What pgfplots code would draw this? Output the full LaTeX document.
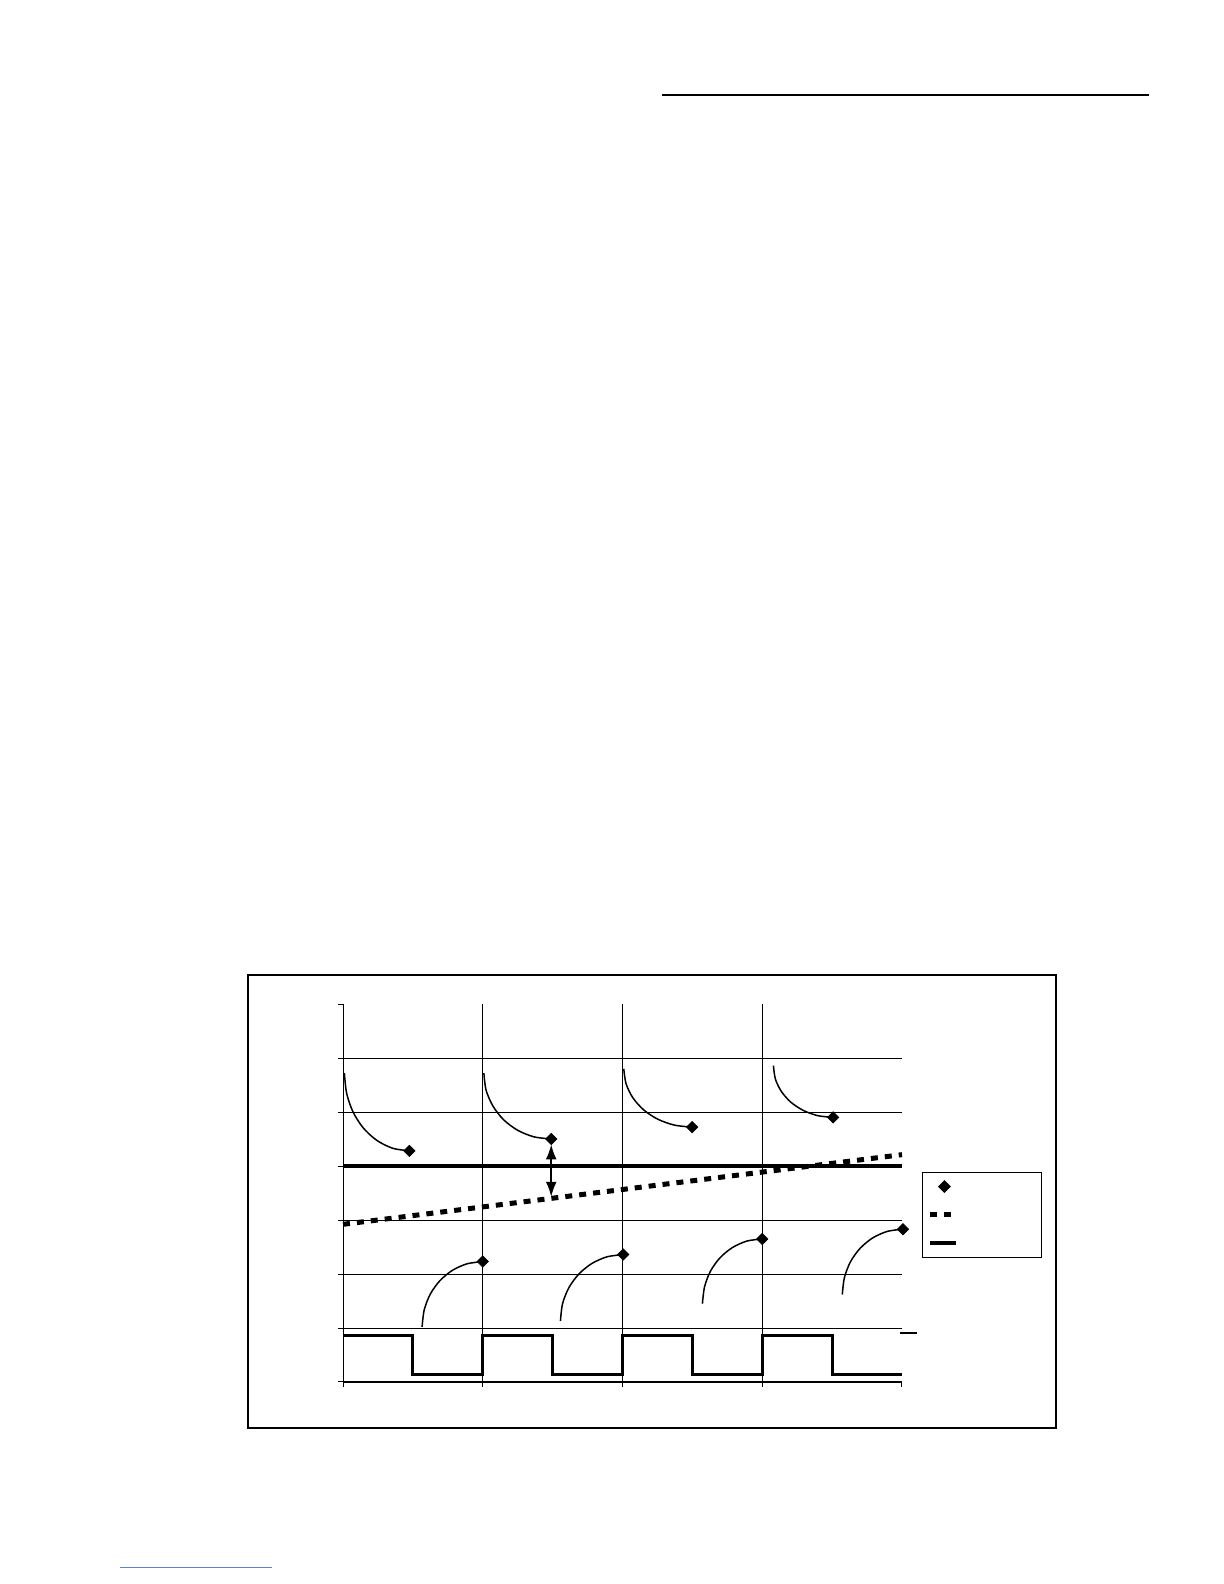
\documentclass[border=0pt]{standalone}
\usepackage{pgfplots}
\pgfplotsset{compat=1.18}
\usetikzlibrary{arrows.meta}
\definecolor{linkblue}{rgb}{0.40,0.50,0.85}
\pgfplotsset{
  dashlegend/.style={legend image code/.code={\draw[##1] (0pt,0pt) -- (12.6pt,0pt);}},
  linelegend/.style={legend image code/.code={\draw[##1] (0pt,0pt) -- (15.6pt,0pt);}},
}
% empty legend text, fixed size
\newcommand{\blank}{\rule[-11pt]{0pt}{22.5pt}\hspace*{43pt}}
\begin{document}
\begin{tikzpicture}
  % page (1224 x 1584 px, y up, 1 px = 0.6pt)
  \begin{scope}[x=0.6pt,y=0.6pt]
    \fill[white] (0,0) rectangle (1224,1584);
    \draw[line width=0.9pt] (662,1489) -- (1149,1489);
    \draw[linkblue, line width=0.6pt] (120,16) -- (272,16);
    % frame round the figure
    \draw[line width=0.8pt] (248,609) rectangle (1056,156);
    \draw[line width=0.8pt] (900,251) -- (917,251);
  \end{scope}

  \begin{axis}[
      at={(205.8pt,121.2pt)}, anchor=south west,
      scale only axis,
      width=335.4pt, height=226.8pt,
      xmin=0, xmax=4, ymin=0, ymax=7,
      axis x line*=bottom, axis y line*=left,
      x axis line style={line width=1.1pt},
      y axis line style={line width=0.6pt},
      xtick={0,...,4}, ytick={0,...,7},
      xticklabels={}, yticklabels={},
      tick align=outside, major tick length=3pt,
      tick style={black, line width=0.6pt},
      extra x ticks={1,2,3}, extra y ticks={1,...,6},
      extra x tick labels={}, extra y tick labels={},
      extra tick style={grid=major, major grid style={black, line width=0.6pt}},
      clip=false,
      legend style={at={(1.036,0.556)}, anchor=north west,
        draw=black, line width=0.7pt, inner xsep=3pt, inner ysep=0pt,
        row sep=0pt},
    ]
    % end points of the curves
    \addplot[only marks, mark=square*, mark options={rotate=45}, mark size=2.4pt, black]
      coordinates {(0.475,4.28) (1.49,4.50) (2.499,4.72) (3.507,4.90)
                   (1.0,2.23) (2.005,2.36) (3.0,2.65) (4.007,2.83)};
    \addlegendentry{\blank}
    % rising set point
    \addplot[black, line width=3pt, dash pattern=on 4.2pt off 4.2pt, dashlegend]
      coordinates {(0,2.92) (4,4.21)};
    \addlegendentry{\blank}
    % fixed level
    \addplot[black, line width=2.3pt, linelegend]
      coordinates {(0,4.0) (4,4.0)};
    \addlegendentry{\blank}

    % decaying curves
    \addplot[forget plot, black, line width=0.9pt, smooth] coordinates {
      (0.010,5.720) (0.026,5.347) (0.072,5.000) (0.146,4.702) (0.243,4.473) (0.355,4.329) (0.475,4.280)};
    \addplot[forget plot, black, line width=0.9pt, smooth] coordinates {
      (1.008,5.720) (1.024,5.404) (1.073,5.110) (1.149,4.857) (1.249,4.663) (1.365,4.541) (1.490,4.500)};
    \addplot[forget plot, black, line width=0.9pt, smooth] coordinates {
      (2.009,5.800) (2.026,5.520) (2.075,5.260) (2.153,5.036) (2.254,4.865) (2.372,4.757) (2.499,4.720)};
    \addplot[forget plot, black, line width=0.9pt, smooth] coordinates {
      (3.080,5.860) (3.094,5.611) (3.137,5.380) (3.205,5.181) (3.294,5.029) (3.396,4.933) (3.507,4.900)};
    % rising curves
    \addplot[forget plot, black, line width=0.9pt, smooth] coordinates {
      (0.566,1.020) (0.581,1.333) (0.624,1.625) (0.693,1.875) (0.783,2.068) (0.888,2.189) (1.000,2.230)};
    \addplot[forget plot, black, line width=0.9pt, smooth] coordinates {
      (1.556,1.130) (1.571,1.449) (1.616,1.745) (1.688,2.000) (1.781,2.195) (1.889,2.318) (2.005,2.360)};
    \addplot[forget plot, black, line width=0.9pt, smooth] coordinates {
      (2.572,1.450) (2.587,1.761) (2.629,2.050) (2.697,2.298) (2.786,2.489) (2.889,2.609) (3.000,2.650)};
    \addplot[forget plot, black, line width=0.9pt, smooth] coordinates {
      (3.573,1.620) (3.588,1.933) (3.631,2.225) (3.700,2.475) (3.790,2.668) (3.895,2.789) (4.007,2.830)};

    % square wave
    \addplot[forget plot, black, line width=1.8pt, line join=miter] coordinates {
      (0,0.86) (0.5,0.86) (0.5,0.14) (1,0.14) (1,0.86) (1.5,0.86) (1.5,0.14) (2,0.14)
      (2,0.86) (2.5,0.86) (2.5,0.14) (3,0.14) (3,0.86) (3.5,0.86) (3.5,0.14) (4,0.14)};

    % gap between curve and set point
    \addplot[forget plot, black, line width=0.9pt,
      {Latex[length=9pt,width=6.5pt]}-{Latex[length=9pt,width=6.5pt]}]
      coordinates {(1.49,4.40) (1.49,3.43)};
  \end{axis}
\end{tikzpicture}
\end{document}
